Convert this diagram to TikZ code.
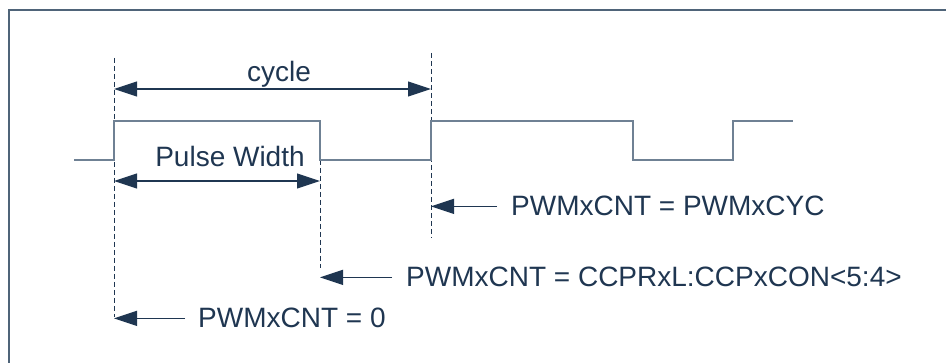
\documentclass[tikz,border=0pt]{standalone}
\usepackage{fontspec}
\setmainfont{Liberation Sans}
\usetikzlibrary{arrows.meta}
\definecolor{inkblue}{HTML}{1F3651}
\definecolor{wavegray}{HTML}{6F8194}
\definecolor{framegray}{HTML}{4F6479}

\begin{document}
\begin{tikzpicture}[x=1pt,y=-1pt,
    every node/.style={font=\fontsize{28}{33}\selectfont, text=inkblue, inner sep=0pt},
    marker/.style={inkblue, dash pattern=on 5pt off 3pt, line width=0.9pt},
    span/.style={inkblue, line width=1.1pt,
      {Triangle[length=23pt,width=15pt]}-{Triangle[length=23pt,width=15pt]}},
    pointer/.style={inkblue, line width=1.1pt, -{Triangle[length=23pt,width=15pt]}},
    wave/.style={wavegray, line width=1.4pt}]
  \useasboundingbox (0,0) rectangle (946,363);
  % frame
  \draw[framegray, line width=1.5pt] (9,363) -- (9,10) -- (946,10);
  % time markers
  \coordinate (startTop) at (114,58);
  \coordinate (startBot) at (114,317);
  \coordinate (dutyTop) at (320,160);
  \coordinate (dutyBot) at (320,268);
  \coordinate (periodTop) at (431,53);
  \coordinate (periodBot) at (431,238);
  \draw[marker] (startTop) -- (startBot);
  \draw[marker] (dutyTop) -- (dutyBot);
  \draw[marker] (periodTop) -- (periodBot);
  % waveform
  \draw[wave] (74,160) -- (114,160) -- (114,121) -- (320,121) -- (320,160)
    -- (431,160) -- (431,121) -- (633,121) -- (633,160) -- (733,160)
    -- (733,121) -- (793,121);
  % cycle
  \coordinate (cycleL) at (114,89);
  \coordinate (cycleR) at (431,89);
  \draw[span] (cycleL) -- (cycleR);
  \node[anchor=base] (cycle) at (279,82) {cycle};
  % pulse width
  \coordinate (pulseL) at (114,181);
  \coordinate (pulseR) at (320,181);
  \draw[span] (pulseL) -- (pulseR);
  \node[anchor=base] (pulse) at (230,167) {Pulse Width};
  % counter values
  \node[anchor=base west] (cntCyc) at (511,216) {PWMxCNT = PWMxCYC};
  \node[anchor=base west] (cntDuty) at (406,287) {PWMxCNT = CCPRxL:CCPxCON<5:4>};
  \node[anchor=base west] (cntZero) at (198,328) {PWMxCNT = 0};
  \draw[pointer] ([xshift=-14pt]cntCyc.west) -- (periodTop |- cntCyc.west);
  \draw[pointer] ([xshift=-14pt]cntDuty.west) -- (dutyTop |- cntDuty.west);
  \draw[pointer] ([xshift=-13pt]cntZero.west) -- (startTop |- cntZero.west);
\end{tikzpicture}
\end{document}
